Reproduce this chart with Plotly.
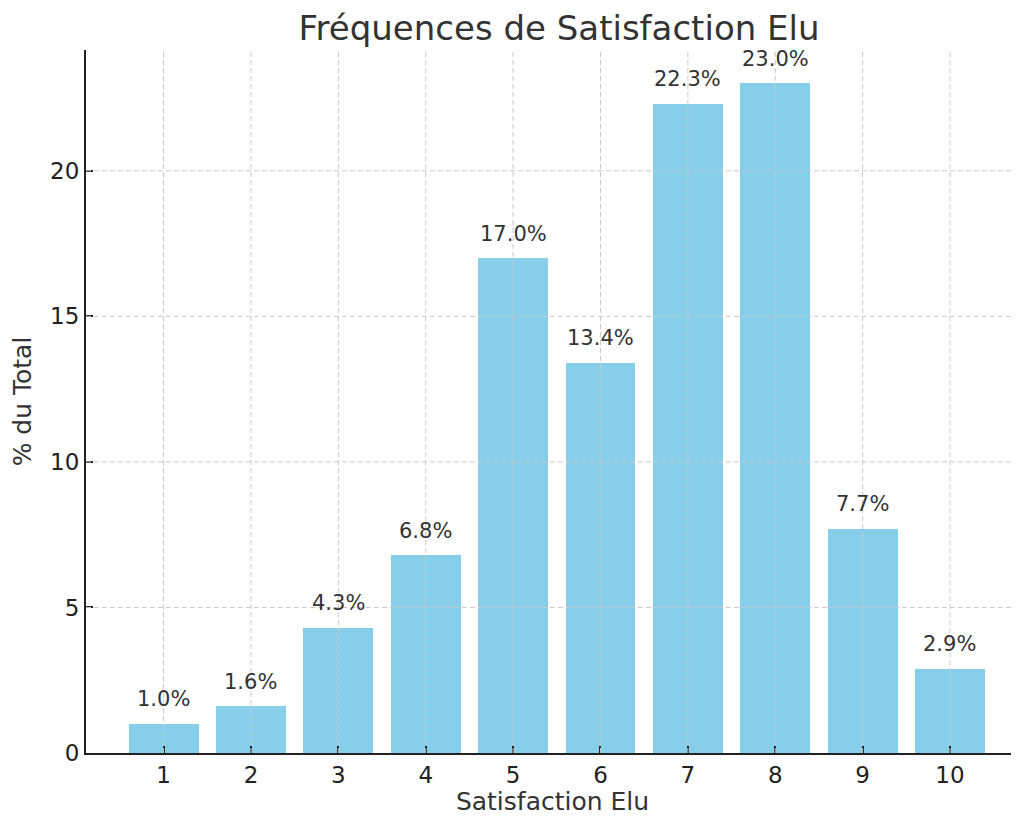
import plotly.graph_objects as go

categories = [1, 2, 3, 4, 5, 6, 7, 8, 9, 10]
values = [1.0, 1.6, 4.3, 6.8, 17.0, 13.4, 22.3, 23.0, 7.7, 2.9]
labels = [f"{v:.1f}%" for v in values]
y_ticks = [0, 5, 10, 15, 20]

FONT = "DejaVu Sans"
fig = go.Figure()
fig.add_trace(go.Bar(x=categories, y=values, width=0.8, marker_color="#87CEEB",
                     marker_line_width=0, showlegend=False, hoverinfo="skip"))

annotations = []
for c, v, t in zip(categories, values, labels):
    annotations.append(dict(x=c, y=v + 0.5, xref="x", yref="y", text=t, showarrow=False,
                            yanchor="bottom", xanchor="center", yshift=-4,
                            font=dict(family=FONT, size=21, color="#333333")))

grid = dict(type="line", layer="above", line=dict(color="#c8c8c8", width=1, dash="5px,3px"))
shapes = []
for c in categories:
    shapes.append(dict(grid, xref="x", yref="paper", x0=c, x1=c, y0=0, y1=1))
for t in y_ticks[1:]:
    shapes.append(dict(grid, xref="paper", yref="y", x0=0, x1=1, y0=t, y1=t))

# page body has an 8px margin; figure sized so it ends at the window edge
fig.update_layout(
    width=1011, height=808,
    margin=dict(l=78, r=0, t=42, b=63),
    paper_bgcolor="white", plot_bgcolor="white",
    title=dict(text="Fréquences de Satisfaction Elu", x=0.545, xanchor="center",
               y=0.975, yanchor="middle",
               font=dict(family=FONT, size=34, color="#333333")),
    annotations=annotations,
    shapes=shapes,
    bargap=0,
)
fig.update_xaxes(range=[0.112, 10.79], tickvals=categories, ticktext=[str(c) for c in categories],
                 showgrid=False, zeroline=False, showline=True, linecolor="#222222", linewidth=2,
                 ticks="inside", ticklen=7, tickwidth=1.5, tickcolor="#222222",
                 tickfont=dict(family=FONT, size=23, color="#222222"),
                 title=dict(text="Satisfaction Elu", font=dict(family=FONT, size=25, color="#333333"),
                            standoff=10))
fig.update_yaxes(range=[0, 24.15], tickvals=y_ticks, ticktext=[str(t) for t in y_ticks],
                 showgrid=False, zeroline=False, showline=True, linecolor="#222222", linewidth=2,
                 ticks="inside", ticklen=7, tickwidth=1.5, tickcolor="#222222",
                 tickfont=dict(family=FONT, size=23, color="#222222"),
                 title=dict(text="% du Total", font=dict(family=FONT, size=25, color="#333333"),
                            standoff=12))
fig.write_html("out.html")
